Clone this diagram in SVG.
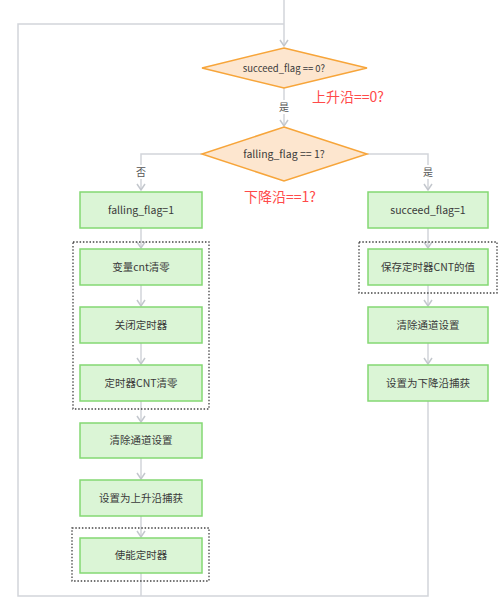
<svg xmlns="http://www.w3.org/2000/svg" width="502" height="609" viewBox="0 0 502 609">
<defs>
<marker id="arr" markerUnits="userSpaceOnUse" markerWidth="12" markerHeight="10" refX="10" refY="5" orient="auto">
<path d="M4,1 L10,5 L4,9" fill="none" stroke="#c3c7cd" stroke-width="1.5"/>
</marker>
<style>
.ln{fill:none;stroke:#d2d5da;stroke-width:1.5}
.box{fill:#dbf5d6;stroke:#84d873;stroke-width:1.5}
.dia{fill:#fde6cf;stroke:#f7a53a;stroke-width:1.5}
.frm{fill:none;stroke:#444;stroke-width:1.3;stroke-dasharray:1.5 1.8}
.t{font-family:"Noto Sans CJK SC","Noto Sans",sans-serif;font-size:10.5px;fill:#3a3a3a;text-anchor:middle}
.lb{font-family:"Noto Sans CJK SC","Noto Sans",sans-serif;font-size:10px;fill:#555;text-anchor:middle}
.red{font-family:"Noto Sans CJK SC","Noto Sans",sans-serif;font-size:14px;fill:#ff4a4a}
</style>
</defs>
<rect width="502" height="609" fill="#fff"/>
<g id="connectors">
<path class="ln" d="M284,0 V46" marker-end="url(#arr)"/>
<path class="ln" d="M428,401 V596 H18 V24 H284"/>
<path class="ln" d="M141,573 V596"/>
<path class="ln" d="M284,88 V126" marker-end="url(#arr)"/>
<rect x="276" y="100" width="16" height="14" fill="#fff"/>
<text class="lb" x="284" y="111">是</text>
<path class="ln" d="M202,154 H141 V190" marker-end="url(#arr)"/>
<rect x="133" y="165" width="16" height="14" fill="#fff"/>
<text class="lb" x="141" y="176">否</text>
<path class="ln" d="M367,154 H428 V190" marker-end="url(#arr)"/>
<rect x="420" y="165" width="16" height="14" fill="#fff"/>
<text class="lb" x="428" y="176">是</text>
<path class="ln" d="M141,228 V248" marker-end="url(#arr)"/>
<path class="ln" d="M141,285 V306" marker-end="url(#arr)"/>
<path class="ln" d="M141,343 V364" marker-end="url(#arr)"/>
<path class="ln" d="M141,401 V422" marker-end="url(#arr)"/>
<path class="ln" d="M141,458 V479" marker-end="url(#arr)"/>
<path class="ln" d="M141,516 V537" marker-end="url(#arr)"/>
<path class="ln" d="M428,228 V248" marker-end="url(#arr)"/>
<path class="ln" d="M428,285 V306" marker-end="url(#arr)"/>
<path class="ln" d="M428,343 V364" marker-end="url(#arr)"/>
</g>
<g id="frame1"><rect class="frm" x="73" y="242" width="136" height="167"/></g>
<g id="frame2"><rect class="frm" x="359" y="242" width="138" height="51"/></g>
<g id="frame3"><rect class="frm" x="72" y="528" width="137" height="53"/></g>
<g id="d1">
<polygon class="dia" points="284,48 367,68 284,88 202,68"/>
<text class="t" x="284" y="72" style="font-size:9.5px">succeed_flag == 0?</text>
</g>
<text class="red" x="312" y="102">上升沿==0?</text>
<g id="d2">
<polygon class="dia" points="284,127 367,154 284,181 202,154"/>
<text class="t" x="284" y="158">falling_flag == 1?</text>
</g>
<text class="red" x="244" y="202">下降沿==1?</text>
<g id="n1"><rect class="box" x="80" y="192" width="122" height="36"/><text class="t" x="141" y="214">falling_flag=1</text></g>
<g id="n2"><rect class="box" x="80" y="249" width="122" height="36"/><text class="t" x="141" y="271">变量cnt清零</text></g>
<g id="n3"><rect class="box" x="80" y="307" width="122" height="36"/><text class="t" x="141" y="329">关闭定时器</text></g>
<g id="n4"><rect class="box" x="80" y="365" width="122" height="36"/><text class="t" x="141" y="387">定时器CNT清零</text></g>
<g id="n5"><rect class="box" x="80" y="423" width="122" height="35"/><text class="t" x="141" y="444">清除通道设置</text></g>
<g id="n6"><rect class="box" x="80" y="480" width="122" height="36"/><text class="t" x="141" y="502">设置为上升沿捕获</text></g>
<g id="n7"><rect class="box" x="80" y="538" width="122" height="35"/><text class="t" x="141" y="559">使能定时器</text></g>
<g id="r1"><rect class="box" x="368" y="192" width="120" height="36"/><text class="t" x="428" y="214">succeed_flag=1</text></g>
<g id="r2"><rect class="box" x="368" y="249" width="120" height="36"/><text class="t" x="428" y="271">保存定时器CNT的值</text></g>
<g id="r3"><rect class="box" x="368" y="307" width="120" height="36"/><text class="t" x="428" y="329">清除通道设置</text></g>
<g id="r4"><rect class="box" x="368" y="365" width="120" height="36"/><text class="t" x="428" y="387">设置为下降沿捕获</text></g>
</svg>
